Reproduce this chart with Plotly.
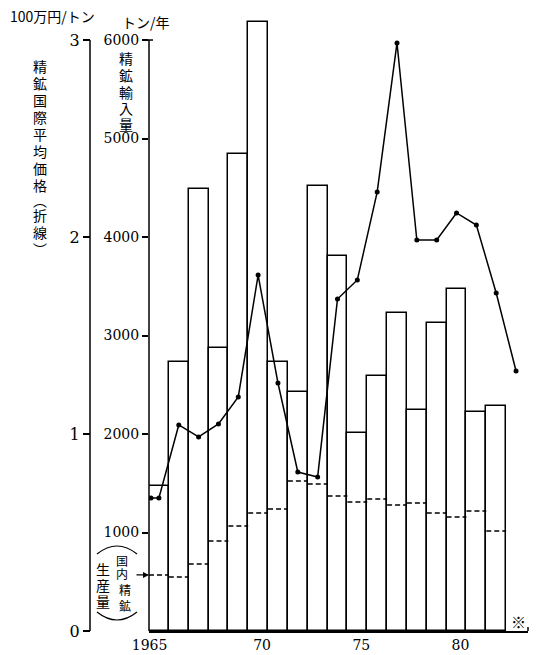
import plotly.graph_objects as go

# ---- data ----
years = [1965, 1966, 1967, 1968, 1969, 1970, 1971, 1972, 1973, 1974,
         1975, 1976, 1977, 1978, 1979, 1980, 1981, 1982]
imports = [1472, 2731, 4487, 2873, 4843, 6183, 2731, 2426, 4518, 3807,
           2010, 2589, 3228, 2244, 3127, 3472, 2223, 2284]
domestic = [569, 548, 680, 914, 1066, 1198, 1239, 1523, 1492, 1371,
            1310, 1340, 1279, 1299, 1198, 1157, 1218, 1015]
price_years = [1964.6, 1965, 1966, 1967, 1968, 1969, 1970, 1971, 1972, 1973,
               1974, 1975, 1976, 1977, 1978, 1979, 1980, 1981, 1982, 1983]
price = [0.675, 0.675, 1.046, 0.985, 1.051, 1.188, 1.807, 1.259, 0.807, 0.782,
         1.685, 1.782, 2.228, 2.985, 1.985, 1.985, 2.122, 2.061, 1.716, 1.320]
x_tickvals = [1965, 1970, 1975, 1980]
x_ticktext = ["1965\u2007\u2007\u2007", "70", "75", "80"]
y_tickvals = [1000, 2000, 3000, 4000, 5000, 6000]
y2_tickvals = [0, 1, 2, 3]

# ---- layout geometry ----
W, H = 536, 655
ML, MR, MT, MB = 90, 8, 15, 24
PW = W - ML - MR
PH = H - MT - MB
YTOP = 6254
XDOM0 = (149 - ML) / PW


def PX(px):
    return (px - ML) / PW


def PY(py):
    return (H - MB - py) / PH


JP = "Noto Sans CJK JP"
NUM = "DejaVu Serif"

fig = go.Figure()
fig.add_trace(go.Bar(x=years, y=imports, width=1,
                     marker=dict(color="white", line=dict(color="black", width=1.5)),
                     showlegend=False, hoverinfo="skip"))

dx, dy = [], []
for yr, v in zip(years, domestic):
    dx += [yr - 0.5, yr + 0.5, None]
    dy += [v, v, None]
fig.add_trace(go.Scatter(x=dx, y=dy, mode="lines",
                         line=dict(color="black", width=1.5, dash="5px,3px"),
                         showlegend=False, hoverinfo="skip"))

fig.add_trace(go.Scatter(x=price_years, y=price, yaxis="y2", mode="lines+markers",
                         line=dict(color="black", width=1.5),
                         marker=dict(symbol="circle", size=5, color="black"),
                         showlegend=False, hoverinfo="skip"))

shapes = [
    dict(type="line", xref="paper", yref="y", x0=XDOM0, x1=XDOM0, y0=0, y1=6000,
         line=dict(color="black", width=1.5)),
    dict(type="line", xref="paper", yref="y", x0=XDOM0 - 4 / PW, x1=XDOM0 + 4 / PW,
         y0=6000, y1=6000, line=dict(color="black", width=1.5)),
    dict(type="line", xref="paper", yref="y2", x0=0, x1=0, y0=0, y1=3,
         line=dict(color="black", width=1.5)),
    dict(type="line", xref="paper", yref="paper", x0=1, x1=1, y0=0, y1=4 / PH,
         line=dict(color="black", width=1.5)),
    dict(type="path", xref="paper", yref="paper",
         path=f"M {PX(97)} {PY(554)} Q {PX(117)} {PY(538)} {PX(137)} {PY(554)}",
         line=dict(color="black", width=1.2)),
    dict(type="path", xref="paper", yref="paper",
         path=f"M {PX(97)} {PY(612)} Q {PX(117)} {PY(628)} {PX(137)} {PY(612)}",
         line=dict(color="black", width=1.2)),
]


def txt(s, px, py, size):
    return dict(text=s, xref="paper", yref="paper", x=PX(px), y=PY(py),
                xanchor="center", yanchor="middle", showarrow=False,
                font=dict(family=JP, size=size, color="black"))


annotations = [
    txt("100万円/トン", 52, 16, 14),
    txt("トン/年", 146, 22, 14),
    txt("※", 518, 621, 15),
]

left_chars = list("精鉱国際平均価格") + ["︵", "折", "線", "︶"]
left_y = [66, 83, 100, 117, 134, 151, 168, 185, 200, 215, 232, 249]
for c, py in zip(left_chars, left_y):
    annotations.append(txt(c, 40, py, 14))

for c, py in zip("精鉱輸入量", [58, 75, 92, 108, 124]):
    annotations.append(txt(c, 126, py, 14))

for c, py in zip("生産量", [569, 585, 601]):
    annotations.append(txt(c, 103, py, 14))

for c, (px, py) in zip("国内精鉱", [(122, 560), (122, 573), (125, 589), (125, 605)]):
    annotations.append(txt(c, px, py, 12))

annotations.append(dict(text="", xref="x", yref="y", x=years[0] - 0.5, y=domestic[0],
                        ax=-14, ay=0, showarrow=True, arrowhead=2, arrowsize=1,
                        arrowwidth=1.2, arrowcolor="black"))

fig.update_layout(
    width=W, height=H,
    margin=dict(l=ML, r=MR, t=MT, b=MB, autoexpand=False),
    paper_bgcolor="white", plot_bgcolor="white",
    bargap=0,
    font=dict(family=NUM, size=14, color="black"),
    xaxis=dict(domain=[XDOM0, 1], range=[1964.5, 1964.5 + (W - MR - 149) / 19.84],
               showline=True, linecolor="black", linewidth=1.5,
               tickvals=x_tickvals, ticktext=x_ticktext, ticks="",
               ticklabelshift=4,
               showgrid=False, zeroline=False, automargin=False,
               tickfont=dict(family=NUM, size=14)),
    yaxis=dict(range=[0, YTOP], tickvals=y_tickvals, ticks="outside", ticklen=6,
               tickwidth=1.5, tickcolor="black", showline=False, showgrid=False,
               zeroline=False, automargin=False, tickfont=dict(family=NUM, size=14)),
    yaxis2=dict(range=[0, YTOP / 2000], overlaying="y", anchor="free", position=0,
                side="left", tickvals=y2_tickvals, ticks="outside", ticklen=7,
                tickwidth=1.5, tickcolor="black", showline=False, showgrid=False,
                zeroline=False, automargin=False, tickfont=dict(family=NUM, size=16)),
    shapes=shapes,
    annotations=annotations,
)

fig.write_html("out.html", config={"displayModeBar": False},
               post_script="document.body.style.margin='0';document.body.style.overflow='hidden';")
